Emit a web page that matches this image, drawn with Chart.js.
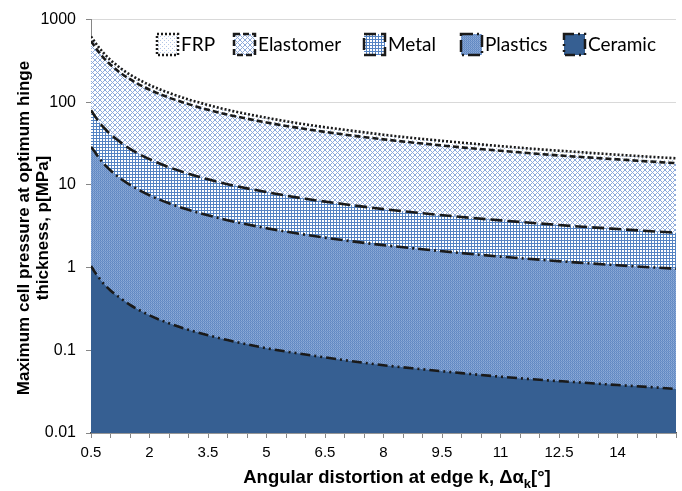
<!DOCTYPE html>
<html>
<head>
<meta charset="utf-8">
<script src="https://cdn.jsdelivr.net/npm/chart.js@4.4.1/dist/chart.umd.min.js"></script>
<style>
    body { margin: 0; background: #fff; }
    canvas { display: block; }
</style>
</head>
<body>
<canvas id="GraficoPressao" width="682" height="491"></canvas>
<script>
// valores (eixo x em graus, y em MPa)
var angulos = [0.5, 0.6, 0.7, 0.8, 1, 1.25, 1.5, 2, 2.5, 3, 3.5, 4, 5, 6, 7, 8, 9, 10, 11, 12, 13, 14, 15, 15.5];
var frp = [625, 535, 462, 405, 325, 260, 216, 162, 130, 108, 93, 81, 65, 54, 46.5, 40.5, 36, 32.5, 29.5, 27, 25, 23.2, 21.7, 21];
var elastomero = [550, 470, 405, 355, 285, 228, 190, 142, 114, 95, 81, 71, 57, 47.5, 40.7, 35.6, 31.7, 28.5, 25.9, 23.7, 21.9, 20.4, 19, 18.4];
var metal = [80, 68, 58.5, 51, 41, 33, 27.3, 20.5, 16.4, 13.7, 11.7, 10.2, 8.2, 6.8, 5.85, 5.1, 4.55, 4.1, 3.73, 3.42, 3.15, 2.93, 2.73, 2.65];
var plasticos = [29, 25, 21.4, 18.7, 15, 12, 10, 7.5, 6, 5, 4.3, 3.75, 3, 2.5, 2.14, 1.87, 1.67, 1.5, 1.36, 1.25, 1.15, 1.07, 1.0, 0.97];
var ceramica = [1.05, 0.88, 0.76, 0.66, 0.53, 0.43, 0.355, 0.265, 0.212, 0.177, 0.152, 0.133, 0.106, 0.089, 0.076, 0.066, 0.059, 0.053, 0.048, 0.044, 0.041, 0.038, 0.0355, 0.034];

var nomes = ['FRP', 'Elastomer', 'Metal', 'Plastics', 'Ceramic'];
var rotulosX = [0.5, 2, 3.5, 5, 6.5, 8, 9.5, 11, 12.5, 14];
var rotulosY = [0.01, 0.1, 1, 10, 100, 1000];

var ctx = document.getElementById('GraficoPressao').getContext('2d');

function criarPadrao(tam, fundo, cor, pixels) {
    var c = document.createElement('canvas');
    c.width = tam; c.height = tam;
    var g = c.getContext('2d');
    g.fillStyle = fundo;
    g.fillRect(0, 0, tam, tam);
    g.fillStyle = cor;
    pixels.forEach(function (p) { g.fillRect(p[0], p[1], 1, 1); });
    return ctx.createPattern(c, 'repeat');
}

function criarPadrao2x2(cores) {
    var c = document.createElement('canvas');
    c.width = 2; c.height = 2;
    var g = c.getContext('2d');
    g.fillStyle = cores[0]; g.fillRect(0, 0, 1, 1);
    g.fillStyle = cores[1]; g.fillRect(1, 0, 1, 1);
    g.fillStyle = cores[2]; g.fillRect(0, 1, 1, 1);
    g.fillStyle = cores[3]; g.fillRect(1, 1, 1, 1);
    return ctx.createPattern(c, 'repeat');
}

var padroes = [
    criarPadrao(4, '#ffffff', '#b4c7e7', [[0, 0], [2, 2]]),
    criarPadrao(5, '#ffffff', '#8eaadb', [[0, 0], [1, 1], [2, 2], [3, 3], [4, 4], [4, 0], [3, 1], [1, 3], [0, 4]]),
    criarPadrao(3, '#ffffff', '#5483c3', [[0, 0], [1, 0], [2, 0], [0, 1], [0, 2]]),
    criarPadrao2x2(['#5f86c0', '#8dabd8', '#7a9dd0', '#6a8fc6']),
    '#365f92'
];
var tracos = [[2, 2], [6, 3], [12, 5], [12, 4, 2, 4], [10, 4, 2, 4, 2, 4]];
var series = [frp, elastomero, metal, plasticos, ceramica];

function pontos(valores) {
    return angulos.map(function (a, i) { return { x: a, y: valores[i] }; });
}

var conjuntos = series.map(function (s, i) {
    return {
        label: nomes[i],
        data: pontos(s),
        fill: 'start',
        backgroundColor: padroes[i],
        borderColor: '#1a1a1a',
        borderWidth: 2.6,
        borderDash: tracos[i],
        pointRadius: 0,
        cubicInterpolationMode: 'monotone',
        order: series.length - i
    };
});

// legenda e titulos desenhados dentro do grafico
var textosPlugin = {
    id: 'textos',
    beforeDraw: function (chart) {
        var c = chart.ctx;
        c.save();
        c.fillStyle = '#fff';
        c.fillRect(0, 0, chart.width, chart.height);
        c.restore();
    },
    afterDraw: function (chart) {
        var c = chart.ctx;
        var xs = [157, 234, 364, 461, 564];
        c.save();
        chart.data.datasets.forEach(function (d, i) {
            c.fillStyle = d.backgroundColor;
            c.fillRect(xs[i], 34, 21, 21);
            c.strokeStyle = '#1a1a1a';
            c.lineWidth = 2.5;
            c.setLineDash(d.borderDash);
            c.strokeRect(xs[i], 34, 21, 21);
            c.setLineDash([]);
            c.fillStyle = '#000';
            c.font = '19px Lato';
            c.textBaseline = 'middle';
            c.textAlign = 'left';
            c.fillText(d.label, xs[i] + 24, 45);
        });

        // titulo do eixo y
        c.save();
        c.translate(33, 228);
        c.rotate(-Math.PI / 2);
        c.font = 'bold 17px "Liberation Sans"';
        c.textAlign = 'center';
        c.textBaseline = 'middle';
        c.fillStyle = '#000';
        c.fillText('Maximum cell pressure at optimum hinge', 0, -9);
        c.fillText('thickness, p[MPa]', 0, 10);
        c.restore();

        // titulo do eixo x com subscrito
        c.textBaseline = 'middle';
        c.textAlign = 'left';
        c.fillStyle = '#000';
        var p1 = 'Angular distortion at edge k, \u0394\u03b1';
        var p3 = '[\u00b0]';
        c.font = 'bold 18.5px "Liberation Sans"';
        var w1 = c.measureText(p1).width;
        var w3 = c.measureText(p3).width;
        c.font = 'bold 13px "Liberation Sans"';
        var w2 = c.measureText('k').width;
        var x0 = 397 - (w1 + w2 + w3) / 2;
        c.font = 'bold 18.5px "Liberation Sans"';
        c.fillText(p1, x0, 478);
        c.font = 'bold 13px "Liberation Sans"';
        c.fillText('k', x0 + w1, 484);
        c.font = 'bold 18.5px "Liberation Sans"';
        c.fillText(p3, x0 + w1 + w2, 478);
        c.restore();
    }
};

var grafico = new Chart(ctx, {
    type: 'line',
    data: { datasets: conjuntos },
    plugins: [textosPlugin],
    options: {
        responsive: false,
        animation: false,
        layout: { padding: { top: 17, right: 0, bottom: 0, left: 0 } },
        plugins: {
            legend: { display: false },
            tooltip: { enabled: false }
        },
        scales: {
            x: {
                type: 'linear',
                min: 0.5,
                max: 15.5,
                afterBuildTicks: function (eixo) {
                    var t = [];
                    for (var v = 0.5; v <= 15.5; v += 0.5) t.push({ value: v });
                    eixo.ticks = t;
                },
                afterFit: function (eixo) { eixo.height = 58; },
                ticks: {
                    autoSkip: false,
                    maxRotation: 0,
                    padding: 6,
                    color: '#000',
                    font: { family: 'Liberation Sans', size: 15 },
                    callback: function (v) { return rotulosX.indexOf(v) >= 0 ? String(v) : ''; }
                },
                grid: { drawOnChartArea: false, tickLength: 5, color: '#868686' },
                border: { color: '#555555', width: 1.5 }
            },
            y: {
                type: 'logarithmic',
                min: 0.01,
                max: 1000,
                afterBuildTicks: function (eixo) {
                    eixo.ticks = rotulosY.map(function (v) { return { value: v }; });
                },
                afterFit: function (eixo) { eixo.width = 91; },
                ticks: {
                    padding: 10,
                    color: '#000',
                    font: { family: 'Liberation Sans', size: 16 },
                    callback: function (v) { return String(v); }
                },
                grid: { color: '#d9d9d9', tickLength: 5, tickColor: '#868686' },
                border: { color: '#868686' }
            }
        }
    }
});
</script>
</body>
</html>
